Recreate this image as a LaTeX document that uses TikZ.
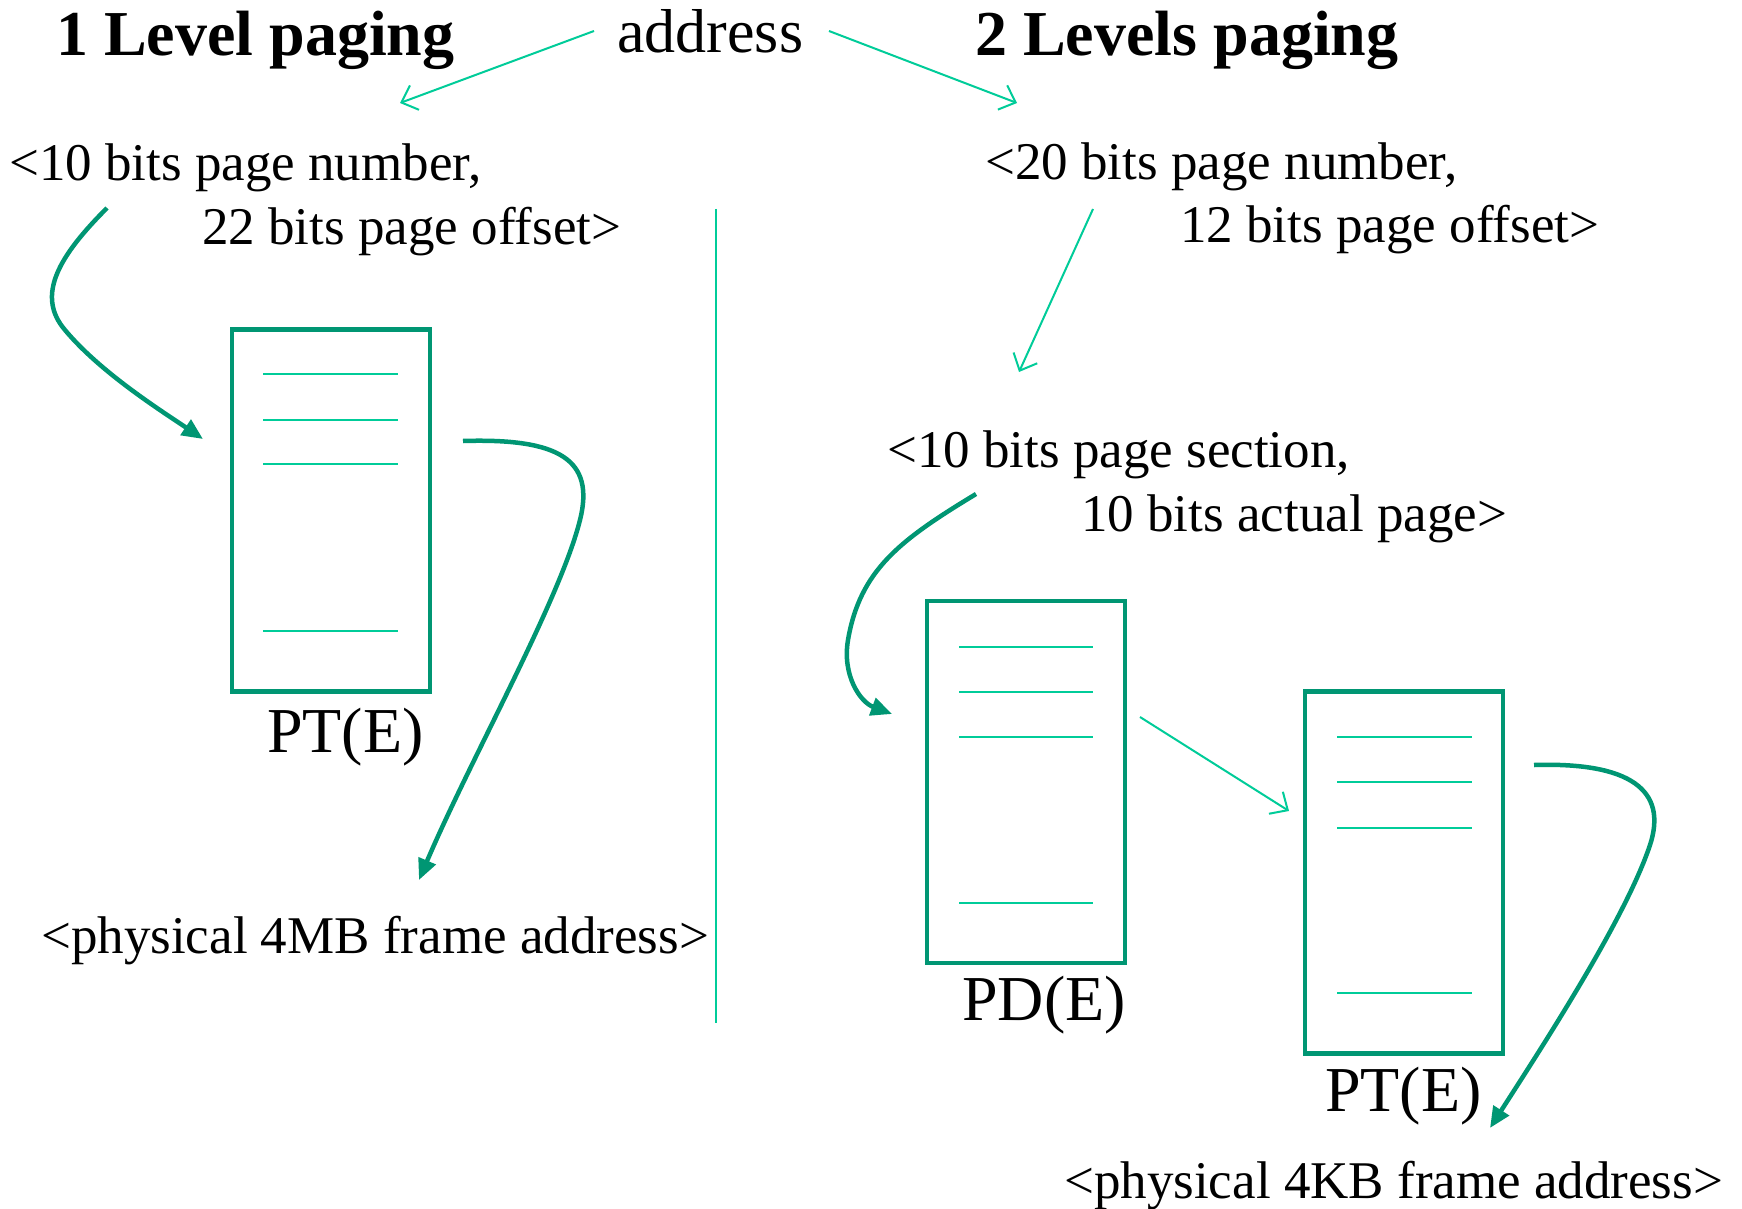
\documentclass[tikz,border=0pt]{standalone}
\usepackage{fontspec}
\setmainfont{Liberation Serif}
\usetikzlibrary{arrows.meta}
\definecolor{dkg}{RGB}{0,150,115}
\definecolor{ltg}{RGB}{0,204,153}
\begin{document}
\begin{tikzpicture}[x=1pt,y=-1pt,
 txt/.style={anchor=base west,inner sep=0pt,font=\fontsize{53pt}{60pt}\selectfont},
 adr/.style={anchor=base west,inner sep=0pt,font=\fontsize{62pt}{68pt}\selectfont},
 ttl/.style={anchor=base west,inner sep=0pt,font=\fontsize{64pt}{70pt}\selectfont\bfseries},
 lbl/.style={anchor=base west,inner sep=0pt,font=\fontsize{64pt}{70pt}\selectfont},
 tbl/.style={draw=dkg,line width=4.5pt,minimum width=198pt,minimum height=362pt,inner sep=0pt},
 row/.style={draw=ltg,line width=1.5pt},
 thinarr/.style={draw=ltg,line width=2pt,-{Straight Barb[length=14pt,width=26pt,line width=2pt]}},
 thickarr/.style={draw=dkg,line width=4.5pt,-{Triangle[length=21pt,width=18pt]}}]
\useasboundingbox (0,0) rectangle (1742,1209);
\fill[white] (0,0) rectangle (1742,1209);

% titles
\node[ttl] (t1) at (56,56) {1 Level paging};
\node[adr] (addr) at (617,53) {address};
\node[ttl] (t2) at (975,56) {2 Levels paging};

% texts
\node[txt] (a1) at (9,181) {<10 bits page number,};
\node[txt] (a2) at (202,244) {22 bits page offset>};
\node[txt] (b1) at (985,180) {<20 bits page number,};
\node[txt] (b2) at (1180,242) {12 bits page offset>};
\node[txt] (c1) at (887,467) {<10 bits page section,};
\node[txt] (c2) at (1081,531) {10 bits actual page>};
\node[txt] (f1) at (41,953) {<physical 4MB frame address>};
\node[txt] (f2) at (1064,1198) {<physical 4KB frame address>};
\node[lbl] (l1) at (267,752) {PT(E)};
\node[lbl] (l2) at (962,1020) {PD(E)};
\node[lbl] (l3) at (1325,1111) {PT(E)};

% tables
\node[tbl] (pt1) at (331,510.5) {};
\node[tbl] (pd) at (1026,782) {};
\node[tbl] (pt2) at (1404,872.5) {};
\foreach \y in {374,420,464,631} \draw[row] (263,\y) -- (398,\y);
\foreach \y in {647,692,737,903} \draw[row] (959,\y) -- (1093,\y);
\foreach \y in {737,782,828,993} \draw[row] (1337,\y) -- (1472,\y);

% divider
\coordinate (dv1) at (716,209);
\coordinate (dv2) at (716,1023);
\draw[draw=ltg,line width=1.5pt] (dv1) -- (dv2);

% thin arrows
\coordinate (s1) at (594,31);
\coordinate (e1) at (400,103);
\coordinate (s2) at (829,31);
\coordinate (e2) at (1017,103);
\coordinate (s3) at (1093,209);
\coordinate (e3) at (1019,372);
\coordinate (s4) at (1140,717);
\coordinate (e4) at (1289,811);
\draw[thinarr] (s1) -- (e1);
\draw[thinarr] (s2) -- (e2);
\draw[thinarr] (s3) -- (e3);
\draw[thinarr] (s4) -- (e4);

% thick curved arrows
\coordinate (k1s) at (107,208);
\coordinate (k1e) at (203,439);
\coordinate (k2s) at (463,441);
\coordinate (k2e) at (419,880);
\coordinate (k3s) at (976,494);
\coordinate (k3e) at (892,714);
\coordinate (k4s) at (1534,765);
\coordinate (k4e) at (1490,1128);
\draw[thickarr] (k1s) .. controls (60,255) and (35,295) .. (65,330) .. controls (100,372) and (160,410) .. (k1e);
\draw[thickarr] (k2s) .. controls (560,438) and (595,460) .. (580,520) .. controls (560,600) and (470,760) .. (k2e);
\draw[thickarr] (k3s) .. controls (900,540) and (860,570) .. (848,640) .. controls (842,675) and (860,702) .. (k3e);
\draw[thickarr] (k4s) .. controls (1630,762) and (1668,790) .. (1650,845) .. controls (1625,920) and (1540,1050) .. (k4e);
\end{tikzpicture}
\end{document}
